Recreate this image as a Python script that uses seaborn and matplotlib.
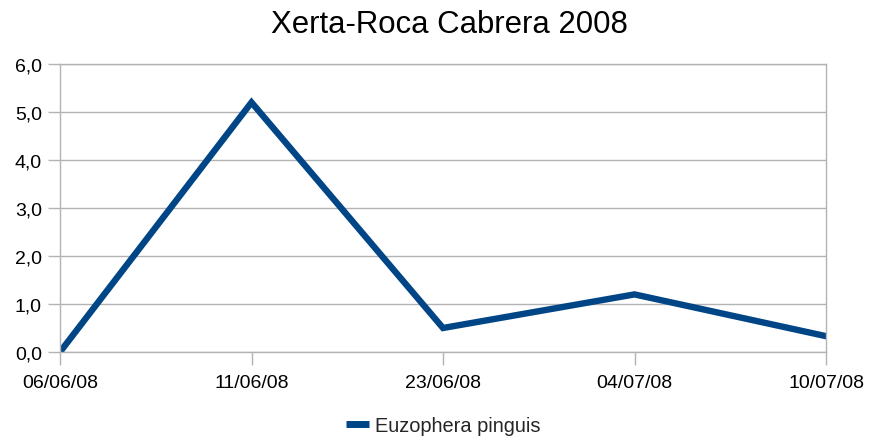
import matplotlib
matplotlib.use("Agg")
import matplotlib.pyplot as plt
import seaborn as sns
import pandas as pd

dates = ["06/06/08", "11/06/08", "23/06/08", "04/07/08", "10/07/08"]
values = [0.0, 5.2, 0.5, 1.2, 0.33]
series_name = "Euzophera pinguis"
title = "Xerta-Roca Cabrera 2008"
yticks = [0, 1, 2, 3, 4, 5, 6]

sns.set_theme(style="white")
plt.rcParams["font.family"] = ["Liberation Sans", "DejaVu Sans"]

df = pd.DataFrame({"idx": range(len(dates)), "value": values, "series": series_name})

fig = plt.figure(figsize=(8.83, 4.39), dpi=100)
ax = fig.add_axes([60 / 883, 1 - 353 / 439, (826 - 60) / 883, (353 - 65) / 439])

grid_c = "#b3b3b3"
line_c = "#004586"
sns.lineplot(data=df, x="idx", y="value", hue="series", palette=[line_c],
             linewidth=4.6, ax=ax, legend=True, solid_joinstyle="miter")

ax.set_xlim(0, len(dates) - 1)
ax.set_ylim(0, 6)
ax.set_xticks(range(len(dates)))
ax.set_xticklabels(dates)
ax.set_yticks(yticks)
ax.set_yticklabels([f"{v:.1f}".replace(".", ",") for v in yticks])
ax.set_xlabel("")
ax.set_ylabel("")
ax.yaxis.grid(True, color=grid_c, linewidth=1)
ax.xaxis.grid(False)
ax.set_axisbelow(True)
for s in ax.spines.values():
    s.set_color(grid_c)
    s.set_linewidth(1)
ax.tick_params(axis="both", which="major", length=9, width=1, color=grid_c,
               labelsize=14, labelcolor="#000000", direction="out",
               bottom=True, left=True)
ax.tick_params(axis="x", pad=7)
ax.tick_params(axis="y", pad=4)

handles, labels = ax.get_legend_handles_labels()
leg = ax.legend(handles, labels, loc="center", bbox_to_anchor=(0.5, -0.255),
                frameon=False, fontsize=14.4, handlelength=1.15, handletextpad=0.3)
for ln in leg.get_lines():
    ln.set_solid_capstyle("butt")
    ln.set_linewidth(5)

fig.text(0.5085, 0.942, title, ha="center", va="center", fontsize=22.4, color="#000000")

fig.savefig("out.png", dpi=100, facecolor="white")
